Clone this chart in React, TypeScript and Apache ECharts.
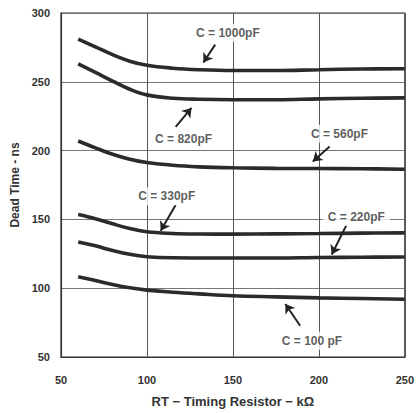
import React, { useEffect, useRef } from "react";
import * as echarts from "echarts";

const rtValues = [60, 70, 80, 90, 100, 115, 130, 150, 175, 200, 225, 250];
const c1000 = [281, 275.4, 269.7, 265, 262, 259.9, 258.8, 258.2, 258.2, 258.8, 259.3, 259.5];
const c820 = [263, 256.8, 250.5, 244.6, 240.5, 238.1, 237.3, 237, 237, 237.6, 238, 238.3];
const c560 = [207, 202, 197.3, 193.7, 191.3, 189.3, 188.2, 187.5, 187.1, 187, 186.8, 186.5];
const c330 = [153.5, 150.5, 146.8, 143.4, 141, 139.8, 139.4, 139.3, 139.5, 139.7, 140, 140.2];
const c220 = [133.6, 130.8, 127.4, 124.6, 122.9, 122.1, 122, 122, 122, 122.3, 122.5, 122.7];
const c100 = [108.4, 105.6, 102.7, 100.3, 98.6, 97.1, 95.9, 94.5, 93.7, 93, 92.5, 92];

const seriesNames = ["C = 1000pF", "C = 820pF", "C = 560pF", "C = 330pF", "C = 220pF", "C = 100 pF"];
const seriesValues = [c1000, c820, c560, c330, c220, c100];

// annotation label positions (data coords)
const labelPos = [
  [147.1, 285.6],
  [121.3, 208.6],
  [212, 212.2],
  [111.5, 166.9],
  [221.8, 151.8],
  [196, 61.9],
];
// arrow tail -> tip (data coords)
const arrowTail = [
  [139.7, 277],
  [116.7, 217.3],
  [206.3, 202.9],
  [116.7, 160.4],
  [216.1, 146],
  [189.1, 72.7],
];
const arrowTip = [
  [132.8, 264],
  [125.9, 231],
  [196.5, 192.1],
  [108, 141.7],
  [207.5, 124.5],
  [180.5, 88.5],
];

const xTicks = [50, 100, 150, 200, 250];
const yTicks = [50, 100, 150, 200, 250, 300];

const FONT = "Arial, 'Liberation Sans', Helvetica, sans-serif";

export default function App() {
  const ref = useRef<HTMLDivElement>(null);
  useEffect(() => {
    if (!ref.current) return;
    const chart = echarts.init(ref.current, null, { renderer: "svg" });
    const curveSeries = seriesNames.map((name, i) => ({
      name,
      type: "line",
      smooth: 0.4,
      symbol: "none",
      data: rtValues.map((x, j) => [x, seriesValues[i][j]]),
      lineStyle: { color: "#2b2b2b", width: 3.6 },
      z: 3,
    }));
    chart.setOption({
      animation: false,
      backgroundColor: "#ffffff",
      grid: {
        left: 61,
        right: 8,
        top: 13,
        bottom: 53,
        show: true,
        borderColor: "#333",
        borderWidth: 1.2,
        backgroundColor: "transparent",
      },
      xAxis: {
        type: "value",
        min: xTicks[0],
        max: xTicks[xTicks.length - 1],
        interval: 50,
        name: "RT \u2212 Timing Resistor \u2212 k\u03A9",
        nameLocation: "middle",
        nameGap: 38,
        nameTextStyle: { fontFamily: FONT, fontWeight: "bold", fontSize: 13, color: "#333" },
        axisLine: { show: true, lineStyle: { color: "#333", width: 1.2 } },
        axisTick: { show: false },
        axisLabel: { fontFamily: FONT, fontWeight: "bold", fontSize: 11, color: "#333", margin: 17 },
        splitLine: { show: true, lineStyle: { color: "#555", width: 1 } },
      },
      yAxis: {
        type: "value",
        min: yTicks[0],
        max: yTicks[yTicks.length - 1],
        interval: 50,
        name: "Dead Time - ns",
        nameLocation: "middle",
        nameGap: 38,
        nameRotate: 90,
        nameTextStyle: { fontFamily: FONT, fontWeight: "bold", fontSize: 12, color: "#333" },
        axisLine: { show: true, lineStyle: { color: "#333", width: 1.2 } },
        axisTick: { show: false },
        axisLabel: { fontFamily: FONT, fontWeight: "bold", fontSize: 11, color: "#333", margin: 11 },
        splitLine: { show: true, lineStyle: { color: "#777", width: 1 } },
      },
      series: [
        ...curveSeries,
        {
          type: "lines",
          coordinateSystem: "cartesian2d",
          symbol: ["none", "arrow"],
          symbolSize: 9,
          lineStyle: { color: "#222", width: 2, opacity: 1 },
          data: arrowTail.map((t, i) => ({ coords: [t, arrowTip[i]] })),
          z: 4,
        },
        {
          type: "scatter",
          symbol: "rect",
          symbolSize: 1,
          itemStyle: { color: "rgba(0,0,0,0)" },
          data: labelPos.map((p, i) => ({ value: p, name: seriesNames[i] })),
          label: {
            show: true,
            position: "inside",
            formatter: (p: any) => p.name,
            fontFamily: FONT,
            fontWeight: "bold",
            fontSize: 12,
            color: "#333",
            backgroundColor: "#fff",
            padding: [3, 5],
          },
          z: 5,
        },
      ],
    });
    return () => chart.dispose();
  }, []);
  return (
    <div
      ref={ref}
      style={{ position: "fixed", left: 0, top: 0, width: 417, height: 413, background: "#fff" }}
    />
  );
}
